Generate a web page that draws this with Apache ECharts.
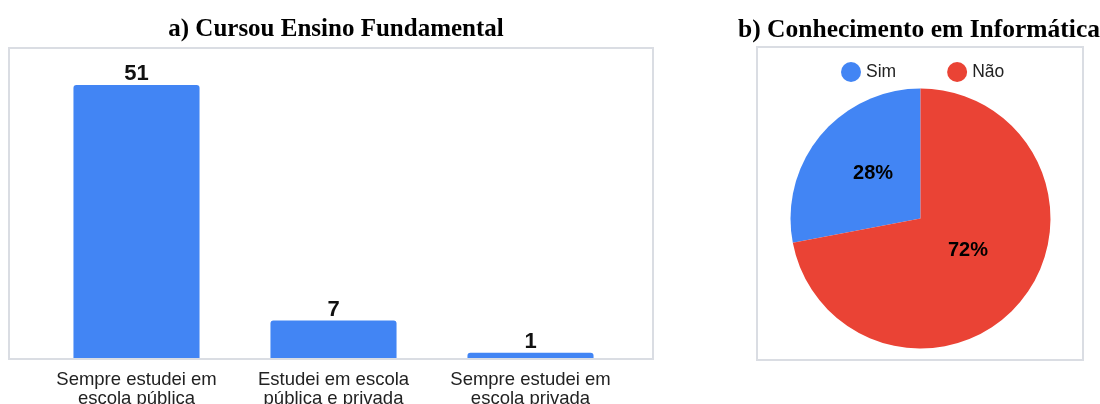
<!DOCTYPE html>
<html><head><meta charset="utf-8">
<script src="https://cdn.jsdelivr.net/npm/echarts@6/dist/echarts.min.js"></script>
<style>html,body{margin:0;padding:0;background:#fff}#c{width:1100px;height:404px}</style>
</head><body><div id="c"></div>
<script>
const barCategories = ['Sempre estudei em\nescola pública', 'Estudei em escola\npública e privada', 'Sempre estudei em\nescola privada'];
const barValues = [51, 7, 1];
const pieNames = ['Sim', 'Não'];
const pieValues = [28, 72];
const titleA = 'a) Cursou Ensino Fundamental';
const titleB = 'b) Conhecimento em Informática';

const chart = echarts.init(document.getElementById('c'));
const sans = '"Liberation Sans", Arial, sans-serif';
const serif = '"Liberation Serif", "Times New Roman", serif';
const pieLabelOffsets = [[5, -2], [-5, -11]];
chart.setOption({
  animation: false,
  title: [
    { text: titleA, left: 331, top: 12, textAlign: 'center', textStyle: { fontFamily: serif, fontWeight: 'bold', fontSize: 25, color: '#000' } },
    { text: titleB, left: 914, top: 12, textAlign: 'center', textStyle: { fontFamily: serif, fontWeight: 'bold', fontSize: 25.5, color: '#000' } }
  ],
  graphic: [
    { type: 'rect', shape: { x: 9, y: 48, width: 644, height: 311 }, style: { fill: 'none', stroke: '#dadde3', lineWidth: 2 }, z: -1 },
    { type: 'rect', shape: { x: 757, y: 47, width: 326, height: 313 }, style: { fill: 'none', stroke: '#dadde3', lineWidth: 2 }, z: -1 }
  ],
  legend: {
    data: pieNames, left: 836, top: 57, icon: 'circle', itemWidth: 20, itemHeight: 20, itemGap: 51,
    textStyle: { fontFamily: sans, fontSize: 17.5, color: '#222' }, selectedMode: false
  },
  grid: { left: 38, width: 591, top: 85, bottom: 46, outerBoundsMode: 'none', containLabel: false },
  xAxis: {
    type: 'category', data: barCategories,
    axisLine: { show: false }, axisTick: { show: false },
    axisLabel: { fontFamily: sans, fontSize: 18.5, color: '#222', lineHeight: 19, margin: 12, interval: 0 }
  },
  yAxis: { type: 'value', min: 0, max: 51, show: false, splitLine: { show: false } },
  color: ['#4285f4', '#ea4335'],
  series: [
    {
      type: 'bar', data: barValues, barCategoryGap: '36%', silent: true,
      itemStyle: { color: '#4285f4', borderRadius: [3, 3, 0, 0] },
      label: { show: true, position: 'top', distance: 0, fontFamily: sans, fontWeight: 'bold', fontSize: 22, color: '#111' }
    },
    {
      type: 'pie', center: [920.5, 218.5], radius: 130, clockwise: false, startAngle: 90, silent: true,
      data: pieNames.map((n, i) => ({ name: n, value: pieValues[i], label: { offset: pieLabelOffsets[i] } })),
      label: { show: true, position: 'inside', formatter: '{d}%', fontFamily: sans, fontWeight: 'bold', fontSize: 20, color: '#000' },
      labelLine: { show: false },
      itemStyle: { borderWidth: 0 }
    }
  ]
});
</script></body></html>
